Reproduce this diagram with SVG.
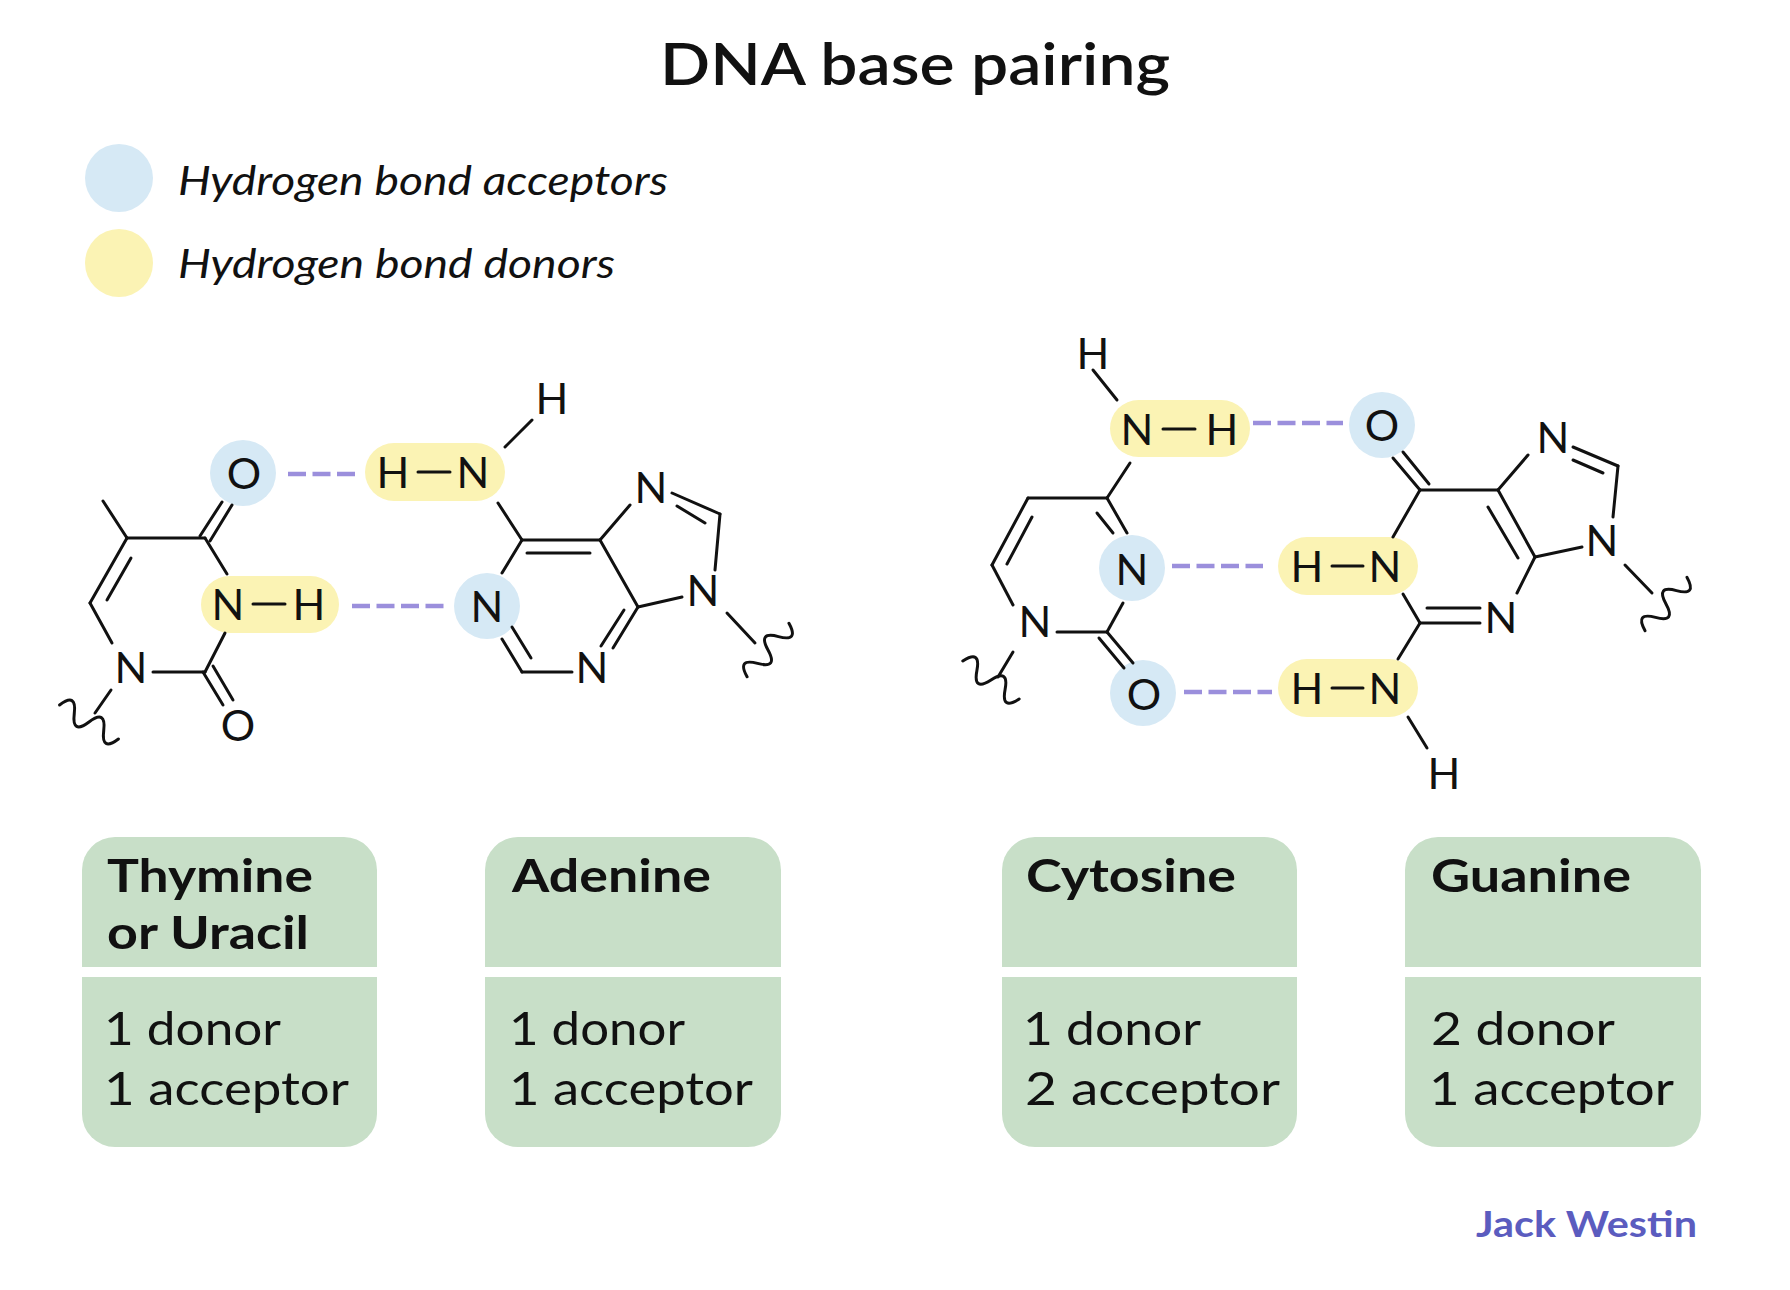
<svg xmlns="http://www.w3.org/2000/svg" width="1790" height="1290" viewBox="0 0 1790 1290">
<style>
.bond{stroke:#111;stroke-width:3;fill:none;stroke-linecap:round}
.hb{stroke:#9b8fdc;stroke-width:4.5;stroke-dasharray:18 6.5;fill:none}
.acc{fill:#d6e9f5}
.don{fill:#fbf3b4}
.atom{font-family:Lato,"Open Sans",sans-serif;font-size:43px;fill:#111;text-anchor:middle}
.box{fill:#c8dfc8}
.hd{font-family:Lato,"Open Sans",sans-serif;font-size:45px;font-weight:700;fill:#111}
.bd{font-family:Lato,"Open Sans",sans-serif;font-size:47px;fill:#111}
.leg{font-family:Lato,"Open Sans",sans-serif;font-size:40px;font-style:italic;fill:#111}
</style>
<defs>
<path id="squig" d="M-34,0 q8.5,-20 17,0 t17,0 t17,0 t17,0" class="bond"/>
</defs>
<rect width="1790" height="1290" fill="#fff"/>

<g id="title">
<text x="915" y="85" text-anchor="middle" textLength="510" lengthAdjust="spacingAndGlyphs" style="font-family:Lato,'Open Sans',sans-serif;font-size:58px;font-weight:600;fill:#111">DNA base pairing</text>
</g>

<g id="legend-acceptor">
<circle cx="119" cy="178" r="34" class="acc"/>
<text x="178" y="195" class="leg" textLength="490" lengthAdjust="spacingAndGlyphs">Hydrogen bond acceptors</text>
</g>
<g id="legend-donor">
<circle cx="119" cy="263" r="34" class="don"/>
<text x="178" y="278" class="leg" textLength="437" lengthAdjust="spacingAndGlyphs">Hydrogen bond donors</text>
</g>

<g id="thymine">
<circle cx="243" cy="473" r="33" class="acc"/>
<rect x="201" y="576" width="138" height="57" rx="28.5" class="don"/>
<line x1="103" y1="501" x2="127" y2="538" class="bond"/>
<line x1="127" y1="538" x2="205" y2="538" class="bond"/>
<line x1="200" y1="536" x2="222" y2="502" class="bond"/>
<line x1="210" y1="541" x2="232" y2="505" class="bond"/>
<line x1="205" y1="538" x2="227" y2="574" class="bond"/>
<line x1="127" y1="538" x2="90" y2="603" class="bond"/>
<line x1="131" y1="558" x2="107" y2="600" class="bond"/>
<line x1="90" y1="603" x2="112" y2="643" class="bond"/>
<line x1="153" y1="672" x2="205" y2="672" class="bond"/>
<line x1="205" y1="672" x2="225" y2="633" class="bond"/>
<line x1="203" y1="672" x2="223" y2="705" class="bond"/>
<line x1="213" y1="666" x2="233" y2="700" class="bond"/>
<line x1="111" y1="690" x2="95" y2="713" class="bond"/>
<line x1="253" y1="604" x2="285" y2="604" class="bond"/>
<use href="#squig" transform="translate(89,722) rotate(30)"/>
<text x="244" y="489" class="atom">O</text>
<text x="228" y="620" class="atom">N</text>
<text x="309" y="620" class="atom">H</text>
<text x="131" y="683" class="atom">N</text>
<text x="238" y="741" class="atom">O</text>
</g>

<g id="adenine">
<rect x="365" y="443" width="140" height="58" rx="29" class="don"/>
<circle cx="487" cy="606" r="33" class="acc"/>
<line x1="418" y1="472" x2="450" y2="472" class="bond"/>
<line x1="505" y1="447" x2="532" y2="420" class="bond"/>
<line x1="498" y1="503" x2="522" y2="540" class="bond"/>
<line x1="522" y1="540" x2="600" y2="540" class="bond"/>
<line x1="527" y1="553" x2="590" y2="553" class="bond"/>
<line x1="600" y1="540" x2="630" y2="505" class="bond"/>
<line x1="672" y1="493" x2="720" y2="514" class="bond"/>
<line x1="677" y1="506" x2="705" y2="523" class="bond"/>
<line x1="720" y1="514" x2="715" y2="570" class="bond"/>
<line x1="682" y1="597" x2="638" y2="607" class="bond"/>
<line x1="638" y1="607" x2="600" y2="540" class="bond"/>
<line x1="638" y1="607" x2="613" y2="648" class="bond"/>
<line x1="624" y1="610" x2="601" y2="646" class="bond"/>
<line x1="572" y1="672" x2="522" y2="672" class="bond"/>
<line x1="522" y1="672" x2="502" y2="639" class="bond"/>
<line x1="531" y1="658" x2="512" y2="627" class="bond"/>
<line x1="502" y1="573" x2="522" y2="540" class="bond"/>
<line x1="727" y1="613" x2="755" y2="643" class="bond"/>
<use href="#squig" transform="translate(768,650) rotate(-52)"/>
<text x="393" y="488" class="atom">H</text>
<text x="473" y="488" class="atom">N</text>
<text x="552" y="414" class="atom">H</text>
<text x="487" y="622" class="atom">N</text>
<text x="592" y="683" class="atom">N</text>
<text x="651" y="503" class="atom">N</text>
<text x="703" y="606" class="atom">N</text>
</g>

<g id="cytosine">
<rect x="1110" y="400" width="140" height="57" rx="28.5" class="don"/>
<circle cx="1132" cy="568" r="33" class="acc"/>
<circle cx="1143" cy="693" r="33" class="acc"/>
<line x1="1093" y1="370" x2="1117" y2="400" class="bond"/>
<line x1="1163" y1="429" x2="1195" y2="429" class="bond"/>
<line x1="1130" y1="463" x2="1107" y2="498" class="bond"/>
<line x1="1107" y1="498" x2="1028" y2="498" class="bond"/>
<line x1="1028" y1="498" x2="992" y2="565" class="bond"/>
<line x1="1032" y1="517" x2="1007" y2="564" class="bond"/>
<line x1="992" y1="565" x2="1013" y2="605" class="bond"/>
<line x1="1057" y1="632" x2="1107" y2="632" class="bond"/>
<line x1="1107" y1="632" x2="1123" y2="603" class="bond"/>
<line x1="1107" y1="498" x2="1127" y2="533" class="bond"/>
<line x1="1097" y1="513" x2="1113" y2="533" class="bond"/>
<line x1="1107" y1="632" x2="1133" y2="663" class="bond"/>
<line x1="1099" y1="638" x2="1124" y2="668" class="bond"/>
<line x1="1013" y1="652" x2="998" y2="677" class="bond"/>
<use href="#squig" transform="translate(991,680) rotate(34)"/>
<text x="1093" y="369" class="atom">H</text>
<text x="1137" y="445" class="atom">N</text>
<text x="1222" y="445" class="atom">H</text>
<text x="1035" y="637" class="atom">N</text>
<text x="1132" y="585" class="atom">N</text>
<text x="1144" y="710" class="atom">O</text>
</g>

<g id="guanine">
<circle cx="1382" cy="425" r="33" class="acc"/>
<rect x="1278" y="537" width="140" height="58" rx="29" class="don"/>
<rect x="1278" y="659" width="140" height="58" rx="29" class="don"/>
<line x1="1393" y1="458" x2="1420" y2="490" class="bond"/>
<line x1="1403" y1="452" x2="1429" y2="484" class="bond"/>
<line x1="1420" y1="490" x2="1498" y2="490" class="bond"/>
<line x1="1498" y1="490" x2="1528" y2="455" class="bond"/>
<line x1="1573" y1="447" x2="1618" y2="466" class="bond"/>
<line x1="1573" y1="460" x2="1603" y2="473" class="bond"/>
<line x1="1618" y1="466" x2="1613" y2="517" class="bond"/>
<line x1="1582" y1="547" x2="1535" y2="557" class="bond"/>
<line x1="1535" y1="557" x2="1498" y2="490" class="bond"/>
<line x1="1518" y1="558" x2="1488" y2="507" class="bond"/>
<line x1="1535" y1="557" x2="1517" y2="593" class="bond"/>
<line x1="1427" y1="608" x2="1480" y2="608" class="bond"/>
<line x1="1420" y1="623" x2="1480" y2="623" class="bond"/>
<line x1="1420" y1="623" x2="1403" y2="594" class="bond"/>
<line x1="1393" y1="537" x2="1420" y2="490" class="bond"/>
<line x1="1420" y1="623" x2="1398" y2="659" class="bond"/>
<line x1="1408" y1="717" x2="1427" y2="748" class="bond"/>
<line x1="1625" y1="565" x2="1652" y2="593" class="bond"/>
<line x1="1332" y1="566" x2="1363" y2="566" class="bond"/>
<line x1="1332" y1="688" x2="1363" y2="688" class="bond"/>
<use href="#squig" transform="translate(1666,604) rotate(-52)"/>
<text x="1382" y="441" class="atom">O</text>
<text x="1553" y="453" class="atom">N</text>
<text x="1602" y="556" class="atom">N</text>
<text x="1501" y="633" class="atom">N</text>
<text x="1307" y="582" class="atom">H</text>
<text x="1385" y="582" class="atom">N</text>
<text x="1307" y="704" class="atom">H</text>
<text x="1385" y="704" class="atom">N</text>
<text x="1444" y="789" class="atom">H</text>
</g>

<g id="connectors">
<line x1="288" y1="474" x2="355" y2="474" class="hb"/>
<line x1="352" y1="606" x2="444" y2="606" class="hb"/>
<line x1="1253" y1="423" x2="1343" y2="423" class="hb"/>
<line x1="1172" y1="566" x2="1263" y2="566" class="hb"/>
<line x1="1184" y1="692" x2="1272" y2="692" class="hb"/>
</g>

<g id="box-thymine">
<path d="M82,967 V870 a33,33 0 0 1 33,-33 H344 a33,33 0 0 1 33,33 V967 Z" class="box"/>
<path d="M82,977 H377 V1114 a33,33 0 0 1 -33,33 H115 a33,33 0 0 1 -33,-33 Z" class="box"/>
<text x="107" y="892" class="hd" textLength="206" lengthAdjust="spacingAndGlyphs">Thymine</text>
<text x="107" y="949" class="hd" textLength="202" lengthAdjust="spacingAndGlyphs">or Uracil</text>
<text x="104" y="1045" class="bd" textLength="177" lengthAdjust="spacingAndGlyphs">1 donor</text>
<text x="104" y="1105" class="bd" textLength="245" lengthAdjust="spacingAndGlyphs">1 acceptor</text>
</g>
<g id="box-adenine">
<path d="M485,967 V870 a33,33 0 0 1 33,-33 H748 a33,33 0 0 1 33,33 V967 Z" class="box"/>
<path d="M485,977 H781 V1114 a33,33 0 0 1 -33,33 H518 a33,33 0 0 1 -33,-33 Z" class="box"/>
<text x="512" y="892" class="hd" textLength="199" lengthAdjust="spacingAndGlyphs">Adenine</text>
<text x="509" y="1045" class="bd" textLength="176" lengthAdjust="spacingAndGlyphs">1 donor</text>
<text x="509" y="1105" class="bd" textLength="244" lengthAdjust="spacingAndGlyphs">1 acceptor</text>
</g>
<g id="box-cytosine">
<path d="M1002,967 V870 a33,33 0 0 1 33,-33 H1264 a33,33 0 0 1 33,33 V967 Z" class="box"/>
<path d="M1002,977 H1297 V1114 a33,33 0 0 1 -33,33 H1035 a33,33 0 0 1 -33,-33 Z" class="box"/>
<text x="1026" y="892" class="hd" textLength="210" lengthAdjust="spacingAndGlyphs">Cytosine</text>
<text x="1023" y="1045" class="bd" textLength="178" lengthAdjust="spacingAndGlyphs">1 donor</text>
<text x="1025" y="1105" class="bd" textLength="255" lengthAdjust="spacingAndGlyphs">2 acceptor</text>
</g>
<g id="box-guanine">
<path d="M1405,967 V870 a33,33 0 0 1 33,-33 H1668 a33,33 0 0 1 33,33 V967 Z" class="box"/>
<path d="M1405,977 H1701 V1114 a33,33 0 0 1 -33,33 H1438 a33,33 0 0 1 -33,-33 Z" class="box"/>
<text x="1431" y="892" class="hd" textLength="200" lengthAdjust="spacingAndGlyphs">Guanine</text>
<text x="1431" y="1045" class="bd" textLength="184" lengthAdjust="spacingAndGlyphs">2 donor</text>
<text x="1429" y="1105" class="bd" textLength="245" lengthAdjust="spacingAndGlyphs">1 acceptor</text>
</g>

<g id="credit">
<text x="1697" y="1237" text-anchor="end" textLength="221" lengthAdjust="spacingAndGlyphs" style="font-family:Lato,'Open Sans',sans-serif;font-size:36px;font-weight:700;fill:#5b5cbf">Jack Westin</text>
</g>
</svg>
